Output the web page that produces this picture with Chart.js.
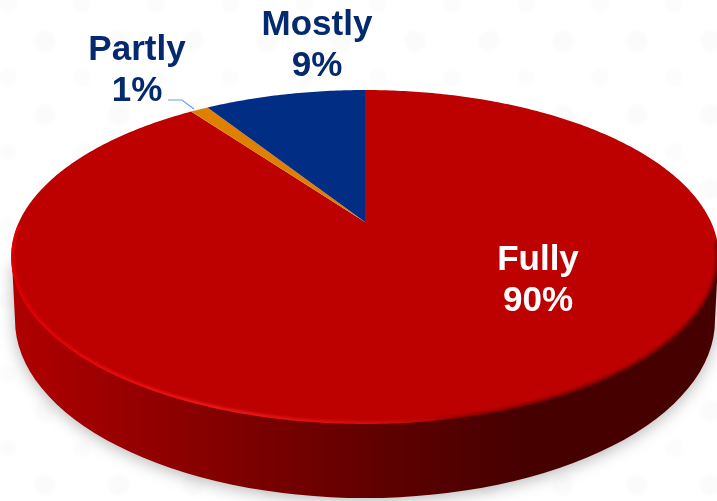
<!DOCTYPE html>
<html>
<head>
<meta charset="utf-8">
<style>
  html, body { margin: 0; padding: 0; background-color: #fff; }
  body {
    width: 717px; height: 501px; overflow: hidden;
    background-image:
      radial-gradient(circle, #fbfbfb 0, #fbfbfb 8px, rgba(255,255,255,0) 13px),
      radial-gradient(circle, #fcfcfc 0, #fcfcfc 6px, rgba(255,255,255,0) 11px);
    background-size: 74px 74px, 74px 74px;
    background-position: 8px 4px, 45px 41px;
  }
  canvas { display: block; }
</style>
<script src="https://cdn.jsdelivr.net/npm/chart.js@4"></script>
</head>
<body>
<canvas id="pieChart" width="717" height="501"></canvas>
<script>
// Datos, en sentido horario desde arriba
const categories = ['Fully', 'Partly', 'Mostly'];
const values = [90, 1, 9];
const sliceColors = ['#bd0000', '#df8000', '#012d85'];
const labelColors = ['#ffffff', '#03296f', '#03296f'];
const labelCenters = [[538, 270], [137, 60], [317, 35]];

// Perspectiva de la cara superior: arriba 90, centro 222, abajo 424
const persp = { x0: 365, y0: 222, p: 346, a: 113.1, c: -0.2096 };
const rimEllipse = { x: 365, y: 320, rx: 350, ry: 178 };

function project(angle) {
  const u = Math.cos(angle), v = Math.sin(angle);
  const d = 1 + persp.c * v;
  return [persp.x0 + persp.p * u / d, (persp.a * v + persp.y0) / d];
}

function tracePerimeter(ctx, from, to) {
  const steps = Math.max(2, Math.ceil(Math.abs(to - from) * 80));
  for (let i = 0; i <= steps; i++) {
    const pt = project(from + (to - from) * i / steps);
    ctx.lineTo(pt[0], pt[1]);
  }
}

function faceClip(ctx) {
  ctx.beginPath();
  tracePerimeter(ctx, 0, Math.PI * 2);
  ctx.closePath();
}

// Canto del disco con su sombra
function drawRim(ctx) {
  const e = rimEllipse;
  const grad = ctx.createLinearGradient(12, 0, 718, 0);
  grad.addColorStop(0, '#b00000');
  grad.addColorStop(0.18, '#950000');
  grad.addColorStop(0.34, '#7c0000');
  grad.addColorStop(0.55, '#5c0000');
  grad.addColorStop(0.72, '#470000');
  grad.addColorStop(1, '#470000');
  ctx.save();
  ctx.shadowColor = 'rgba(0,0,0,0.28)';
  ctx.shadowBlur = 16;
  ctx.shadowOffsetY = 3;
  ctx.fillStyle = grad;
  ctx.beginPath();
  ctx.ellipse(e.x, e.y, e.rx, e.ry, 0, 0, Math.PI);
  ctx.lineTo(12, 262);
  ctx.lineTo(718, 262);
  ctx.closePath();
  ctx.fill();
  ctx.restore();
}

// Brillo claro a la izquierda y borde oscuro a la derecha
function drawBevel(ctx) {
  ctx.save();
  faceClip(ctx);
  ctx.clip();
  const shine = ctx.createLinearGradient(12, 0, 718, 0);
  shine.addColorStop(0, 'rgba(235,0,0,0.9)');
  shine.addColorStop(0.3, 'rgba(255,35,35,0.8)');
  shine.addColorStop(0.56, 'rgba(255,30,30,0.3)');
  shine.addColorStop(0.63, 'rgba(60,0,0,0.4)');
  shine.addColorStop(1, 'rgba(50,0,0,0.7)');
  ctx.strokeStyle = shine;
  ctx.filter = 'blur(1.5px)';
  ctx.lineWidth = 5;
  ctx.beginPath();
  tracePerimeter(ctx, 0.12, Math.PI - 0.02);
  ctx.stroke();
  ctx.restore();
}

const perspectivePie = {
  id: 'perspectivePie',
  beforeDatasetsDraw(chart) {
    const ctx = chart.ctx;
    const arcs = chart.getDatasetMeta(0).data;
    drawRim(ctx);
    arcs.forEach((arc, i) => {
      const props = arc.getProps(['startAngle', 'endAngle']);
      ctx.beginPath();
      ctx.moveTo(persp.x0, persp.y0);
      tracePerimeter(ctx, props.startAngle, props.endAngle);
      ctx.closePath();
      ctx.fillStyle = sliceColors[i];
      ctx.fill();
    });
    drawBevel(ctx);

    // Linea guia de Partly
    ctx.strokeStyle = '#6f9cf5';
    ctx.lineWidth = 1.2;
    ctx.beginPath();
    ctx.moveTo(168, 100);
    ctx.lineTo(182, 100);
    ctx.lineTo(194, 109);
    ctx.stroke();

    // Etiquetas
    ctx.font = 'bold 35px "Liberation Sans", Arial, sans-serif';
    ctx.textAlign = 'center';
    ctx.textBaseline = 'alphabetic';
    categories.forEach((name, i) => {
      ctx.fillStyle = labelColors[i];
      ctx.fillText(name, labelCenters[i][0], labelCenters[i][1]);
      ctx.fillText(values[i] + '%', labelCenters[i][0], labelCenters[i][1] + 41);
    });
    return false;
  }
};

new Chart(document.getElementById('pieChart').getContext('2d'), {
  type: 'pie',
  data: {
    labels: categories,
    datasets: [{ data: values, backgroundColor: sliceColors, borderWidth: 0 }]
  },
  options: {
    responsive: false,
    animation: false,
    plugins: { legend: { display: false }, tooltip: { enabled: false } }
  },
  plugins: [perspectivePie]
});
</script>
</body>
</html>
